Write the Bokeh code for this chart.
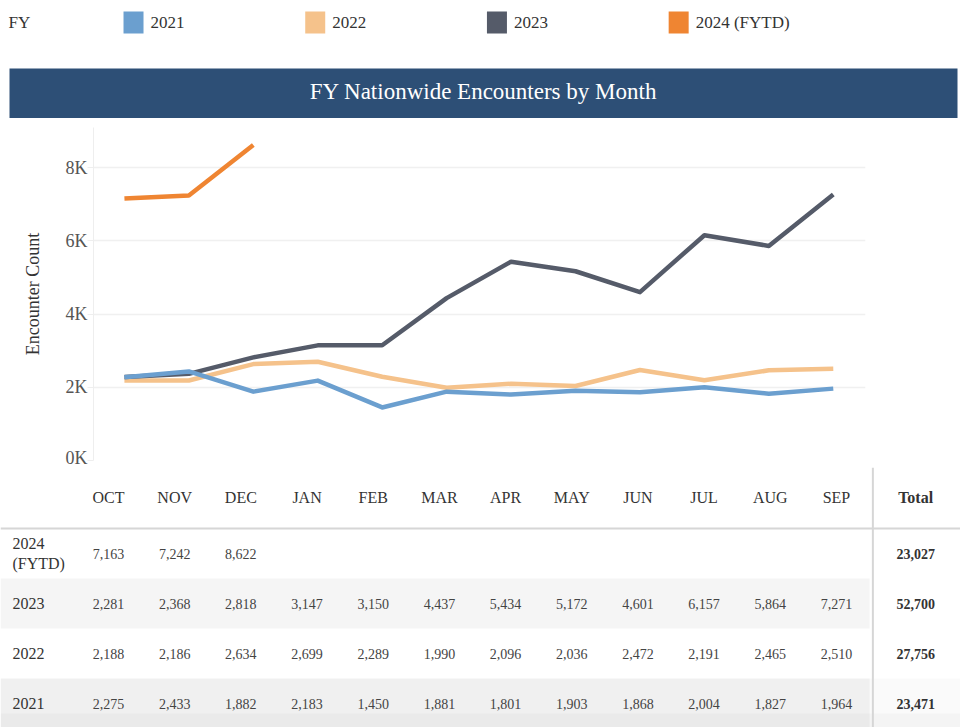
from bokeh.plotting import figure
from bokeh.models import Range1d, FixedTicker, CustomJSTickFormatter, Label, Span, Spacer
from bokeh.layouts import column
from bokeh.embed import file_html
from bokeh.resources import INLINE
from bokeh.core.properties import value

# ---------------- data ----------------
months = ["OCT", "NOV", "DEC", "JAN", "FEB", "MAR", "APR", "MAY", "JUN", "JUL", "AUG", "SEP"]
fy_labels = ["2021", "2022", "2023", "2024 (FYTD)"]
fy2021 = [2275, 2433, 1882, 2183, 1450, 1881, 1801, 1903, 1868, 2004, 1827, 1964]
fy2022 = [2188, 2186, 2634, 2699, 2289, 1990, 2096, 2036, 2472, 2191, 2465, 2510]
fy2023 = [2281, 2368, 2818, 3147, 3150, 4437, 5434, 5172, 4601, 6157, 5864, 7271]
fy2024 = [7163, 7242, 8622]
totals = [23471, 27756, 52700, 23027]
y_ticks = [0, 2000, 4000, 6000, 8000]

colors = ["#6b9fcf", "#f5c28b", "#555b69", "#ef8532"]
FONT = "Liberation Serif"
W = 960

def base(**kw):
    f = figure(width=W, output_backend="svg", toolbar_location=None,
               outline_line_color=None, **kw)
    f.frame_align = False
    return f

# ---------------- legend ----------------
leg = base(height=44, x_range=Range1d(-0.732, 4.551), y_range=Range1d(-1, 1),
           x_axis_type=None, y_axis_type=None, min_border=0)
leg.grid.visible = False
idx = list(range(len(fy_labels)))
leg.rect(x=idx, y=0, width=20, height=22, width_units="screen", height_units="screen",
         fill_color=colors, line_color=None)
leg.text(x=idx, y=0, text=fy_labels, x_offset=17, text_align="left", text_baseline="middle",
         text_font=value(FONT), text_font_size="17px", text_color="#333333")
leg.add_layout(Label(x=8, y=22, x_units="screen", y_units="screen", text="FY",
                     text_align="left", text_baseline="middle", text_font=FONT,
                     text_font_size="17px", text_color="#333333"))

# ---------------- banner ----------------
ban = base(height=50, x_range=Range1d(0, 1), y_range=Range1d(0, 1),
           x_axis_type=None, y_axis_type=None, min_border_left=9, min_border_right=3,
           min_border_top=0, min_border_bottom=0,
           background_fill_color="#2d4f76", border_fill_color="white")
ban.grid.visible = False
ban.add_layout(Label(x=0.5, y=0.5, y_offset=2, text="FY Nationwide Encounters by Month",
                     text_align="center", text_baseline="middle", text_color="white",
                     text_font=FONT, text_font_size="23px"))

# ---------------- chart ----------------
p = base(height=349, x_range=Range1d(-0.48, 11.5), y_range=Range1d(0, 9100),
         x_axis_type=None, min_border_left=93, min_border_right=95,
         min_border_top=9, min_border_bottom=7)
p.yaxis.ticker = FixedTicker(ticks=y_ticks)
p.yaxis.formatter = CustomJSTickFormatter(code="return (tick/1000).toFixed(0) + 'K';")
p.yaxis.axis_line_color = "#eeeeee"
p.yaxis.major_tick_line_color = "#eeeeee"
p.yaxis.major_tick_in = 0
p.yaxis.major_tick_out = 6
p.yaxis.minor_tick_line_color = None
p.yaxis.major_label_text_font = FONT
p.yaxis.major_label_text_font_size = "18px"
p.yaxis.major_label_text_color = "#555555"
p.yaxis.major_label_standoff = 0
p.yaxis.axis_label = "Encounter Count"
p.yaxis.axis_label_text_font = FONT
p.yaxis.axis_label_text_font_size = "18px"
p.yaxis.axis_label_text_font_style = "normal"
p.yaxis.axis_label_text_color = "#333333"
p.yaxis.axis_label_standoff = 20
p.ygrid.grid_line_color = "#f0f0f0"
p.ygrid.grid_line_width = 1.5

x_idx = list(range(len(months)))
series = {"2021": fy2021, "2022": fy2022, "2023": fy2023, "2024 (FYTD)": fy2024}
for k in ["2022", "2023", "2021", "2024 (FYTD)"]:
    vals = series[k]
    p.line(x_idx[:len(vals)], vals, line_color=colors[fy_labels.index(k)],
           line_width=4.5, line_join="round")

# ---------------- table ----------------
t_start, t_end = -1.632, 12.874
t = base(height=260, x_range=Range1d(t_start, t_end), y_range=Range1d(3.48, -1.72),
         x_axis_type=None, y_axis_type=None, min_border=0)
t.grid.visible = False

row_keys = list(reversed(fy_labels))              # 2024, 2023, 2022, 2021
row_idx = list(range(len(row_keys)))
row_totals = list(reversed(totals))
shade_rows = [r for r in row_idx if r % 2 == 1]
t.hbar(y=shade_rows, left=t_start, right=len(months) - 0.5, height=1,
       fill_color="#f5f5f5", line_color=None)
# soft shadow along the bottom edge of the last row
last = row_idx[-1]
t.hbar(y=[last], left=t_start, right=t_end, height=1, fill_color="#000000",
       fill_alpha=0.02, line_color=None)
t.hbar(y=[last + 0.35], left=t_start, right=t_end, height=0.3, fill_color="#000000",
       fill_alpha=0.025, line_color=None)

t.add_layout(Span(location=-0.5, dimension="width", line_color="#d6d6d6", line_width=2))
t.add_layout(Span(location=len(months) - 0.45, dimension="height", line_color="#d6d6d6", line_width=2))

# header
t.text(x=x_idx, y=[-1] * len(months), text=months, y_offset=-6, text_align="center",
       text_baseline="middle", text_font=value(FONT), text_font_size="16px", text_color="#333333")
t.text(x=[len(months)], y=[-1], text=["Total"], x_offset=13, y_offset=-6, text_align="center",
       text_baseline="middle", text_font=value(FONT), text_font_size="16px",
       text_font_style="bold", text_color="#333333")

# row labels
t.text(x=[t_start] * len(row_keys), y=row_idx, text=[k.replace(" ", "\n") for k in row_keys],
       x_offset=12, text_align="left", text_baseline="middle", text_font=value(FONT),
       text_font_size="16px", text_color="#333333")

# cells
cx, cy, ct = [], [], []
for r, k in enumerate(row_keys):
    for i, v in enumerate(series[k]):
        cx.append(i)
        cy.append(r)
        ct.append(f"{v:,}")
t.text(x=cx, y=cy, text=ct, text_align="center", text_baseline="middle",
       text_font=value(FONT), text_font_size="14px", text_color="#444444")
t.text(x=[len(months)] * len(row_keys), y=row_idx, text=[f"{v:,}" for v in row_totals],
       x_offset=13, text_align="center", text_baseline="middle", text_font=value(FONT),
       text_font_size="14px", text_font_style="bold", text_color="#333333")

layout = column(leg, Spacer(width=W, height=24), ban, p, t, spacing=0)
open("out.html", "w").write(file_html(layout, INLINE))
